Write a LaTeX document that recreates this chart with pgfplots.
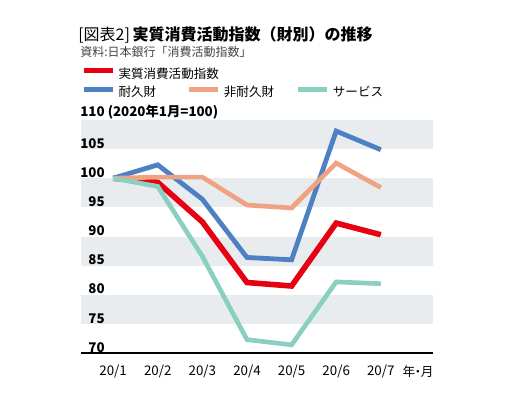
\documentclass[border=0pt]{standalone}
\usepackage{fontspec}
\setmainfont{Noto Sans CJK JP}
\usepackage{pgfplots}
\pgfplotsset{compat=1.18}
\definecolor{cred}{HTML}{E60012}
\definecolor{cblue}{HTML}{4E81C3}
\definecolor{corange}{HTML}{F0A382}
\definecolor{cteal}{HTML}{8ACFC0}
\definecolor{cband}{HTML}{E9ECEF}
\definecolor{csrc}{HTML}{444444}
\begin{document}
\begin{tikzpicture}[x=1pt,y=1pt]
\useasboundingbox (0,0) rectangle (390,294.75);
\node[anchor=west, inner sep=0pt] at (58.5,268.5) {\fontsize{12}{14}\selectfont [図表2]\,\textbf{実質消費活動指数（財別）の推移}};
\node[anchor=west, inner sep=0pt, text=csrc] at (60,255.75) {\fontsize{9}{11}\selectfont 資料:日本銀行「消費活動指数」};
\node[anchor=center, inner sep=0pt] at (313.5,15.75) {\fontsize{9.5}{12}\selectfont 年\kern-0.28em・\kern-0.28em月};
\begin{axis}[
  at={(60.75pt,30pt)}, anchor=south west,
  scale only axis, width=264pt, height=174.75pt,
  xmin=-0.72, xmax=7.17, ymin=70, ymax=110,
  axis on top,
  axis x line*=bottom, axis y line*=left,
  x axis line style={black, line width=0.8pt, -},
  y axis line style={draw=none},
  major tick length=0pt,
  xtick={0,1,2,3,4,5,6},
  xticklabels={20/1,20/2,20/3,20/4,20/5,20/6,20/7},
  ytick={70,75,80,85,90,95,100,105,110},
  yticklabels={70,75,80,85,90,95,100,105,{110\rlap{ (2020年1月=100)}}},
  /pgf/number format/assume math mode=true,
  xticklabel style={font=\fontsize{10}{12}\selectfont, anchor=north, inner sep=0pt, yshift=-8.5pt},
  yticklabel style={font=\bfseries\fontsize{10}{12}\selectfont, anchor=south east, inner sep=0pt, xshift=18pt, yshift=0.3pt},
  clip=false,
  legend cell align=left,
  legend columns=3,
  legend style={at={(0,1.224)}, anchor=north west, draw=none, fill=none, inner sep=0pt,
    column sep=0pt, row sep=4.5pt,
    nodes={inner sep=0pt, anchor=west, text height=7pt, text depth=2pt, font=\fontsize{9.4}{11}\selectfont}},
  legend image code/.code={\draw[#1, line width=3.75pt] (0pt,3.2pt) -- (21.75pt,3.2pt);},
]
\fill[cband] (axis cs:-0.72,105) rectangle (axis cs:7.17,110);
\fill[cband] (axis cs:-0.72,95) rectangle (axis cs:7.17,100);
\fill[cband] (axis cs:-0.72,85) rectangle (axis cs:7.17,90);
\fill[cband] (axis cs:-0.72,75) rectangle (axis cs:7.17,80);
\addplot[cred, line width=4.2pt, line join=miter] coordinates {(0,100) (1,99.3) (2,92.5) (3,82.1) (4,81.5) (5,92.3) (6,90.3)};
\addlegendentry{\makebox[53.5pt][l]{\hspace{2.5pt}実質消費活動指数}}
\addlegendimage{empty legend}\addlegendentry{}
\addlegendimage{empty legend}\addlegendentry{}
\addplot[cblue, line width=3.6pt, line join=miter] coordinates {(0,100) (1,102.3) (2,96.4) (3,86.4) (4,86.0) (5,108.1) (6,104.9)};
\addlegendentry{\makebox[53.5pt][l]{\hspace{2.5pt}耐久財}}
\addplot[corange, line width=3.5pt, line join=miter] coordinates {(0,100) (1,100.2) (2,100.2) (3,95.4) (4,94.9) (5,102.6) (6,98.4)};
\addlegendentry{\makebox[56.25pt][l]{\hspace{2.5pt}非耐久財}}
\addplot[cteal, line width=3.5pt, line join=miter] coordinates {(0,100) (1,98.6) (2,86.6) (3,72.3) (4,71.4) (5,82.2) (6,81.9)};
\addlegendentry{\makebox[40pt][l]{\hspace{2.5pt}サービス}}
\end{axis}
\end{tikzpicture}
\end{document}
